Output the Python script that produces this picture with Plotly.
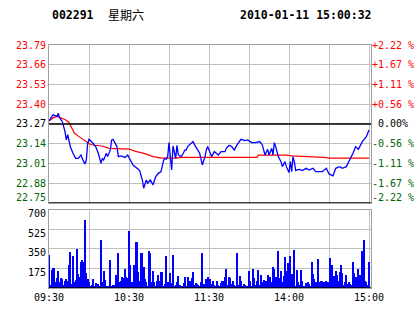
import plotly.graph_objects as go

# ---------------- data ----------------
stock_code = "002291"
weekday_text = "星期六"
timestamp_text = "2010-01-11 15:00:32"
prev_close = 23.27

price_ticks = [22.75, 22.88, 23.01, 23.14, 23.27, 23.40, 23.53, 23.66, 23.79]
pct_labels = ["-2.22 %", "-1.67 %", "-1.11 %", "-0.56 %", " 0.00%",
              "+0.56 %", "+1.11 %", "+1.67 %", "+2.22 %"]
vol_ticks = [175, 350, 525, 700]
time_ticks = [0, 30, 60, 90, 120, 150, 180, 210, 240]
time_labels = ["09:30", "", "10:30", "", "11:30", "", "14:00", "", "15:00"]

# minute index since 09:30 (lunch break removed) and price
price_minutes = [
    0, 3, 6, 7, 8, 10, 12, 13, 14, 15,
    16, 18, 20, 22, 24, 26, 27, 28, 29, 30,
    32, 33, 35, 37, 39, 40, 41, 43, 44, 46,
    47, 48, 49, 51, 52, 54, 57, 59, 61, 63,
    66, 68, 70, 71, 73, 74, 76, 78, 80, 82,
    84, 86, 87, 88, 89, 90, 91, 92, 93, 95,
    96, 97, 99, 100, 102, 103, 104, 107, 108, 110,
    113, 115, 117, 118, 119, 120, 122, 124, 127, 129,
    132, 133, 135, 137, 139, 141, 143, 144, 147, 149,
    152, 155, 158, 160, 162, 164, 165, 167, 168, 169,
    170, 172, 174, 175, 177, 178, 180, 181, 182, 183,
    184, 185, 186, 188, 190, 193, 195, 198, 200, 203,
    205, 208, 210, 213, 215, 218, 220, 223, 225, 228,
    229, 230, 232, 233, 235, 238, 240,
]
price_values = [
    23.29, 23.33, 23.32, 23.34, 23.31, 23.285, 23.22, 23.165, 23.20, 23.165,
    23.12, 23.077, 23.044, 23.044, 23.066, 23.022, 23.007, 23.033, 23.143, 23.169,
    23.154, 23.143, 23.121, 23.077, 23.011, 23.044, 23.033, 23.077, 23.055, 23.099,
    23.165, 23.169, 23.154, 23.121, 23.055, 23.06, 23.05, 23.066, 23.033, 23.00,
    22.978, 22.963, 22.901, 22.847, 22.901, 22.88, 22.901, 22.869, 22.923, 22.945,
    22.956, 23.033, 23.044, 23.037, 23.055, 23.147, 23.055, 22.967, 23.125, 23.044,
    23.13, 23.066, 23.055, 23.066, 23.099, 23.099, 23.121, 23.147, 23.154, 23.121,
    23.077, 23.00, 23.055, 23.099, 23.121, 23.099, 23.055, 23.088, 23.066, 23.088,
    23.088, 23.11, 23.13, 23.121, 23.099, 23.132, 23.154, 23.169, 23.16, 23.165,
    23.147, 23.147, 23.154, 23.132, 23.066, 23.103, 23.066, 23.11, 23.066, 23.147,
    23.121, 23.055, 23.022, 22.989, 23.022, 22.989, 22.95, 23.022, 22.956, 23.055,
    23.022, 22.963, 22.967, 22.971, 22.963, 22.978, 22.967, 22.978, 22.956, 22.956,
    22.956, 22.978, 22.941, 22.928, 22.978, 22.989, 22.978, 22.989, 23.022, 23.077,
    23.099, 23.121, 23.103, 23.121, 23.154, 23.186, 23.23,
]

avg_minutes = [0, 3, 6, 9, 12, 15, 17, 19, 22, 25,
               28, 31, 34, 40, 45, 52, 60, 65, 72, 78,
               85, 95, 100, 120, 156, 157, 178, 182, 200, 206,
               210, 240]
avg_values = [23.29, 23.31, 23.32, 23.31, 23.30, 23.28, 23.24, 23.21, 23.19, 23.17,
              23.155, 23.135, 23.13, 23.125, 23.11, 23.11, 23.105, 23.09, 23.075, 23.055,
              23.045, 23.045, 23.05, 23.05, 23.05, 23.065, 23.065, 23.06, 23.055, 23.05,
              23.045, 23.045]

volume = [
    301, 30, 165, 183, 183, 62, 95, 160, 56, 94,
    86, 30, 71, 86, 71, 212, 328, 40, 292, 56,
    77, 352, 130, 100, 233, 257, 239, 611, 136, 86,
    56, 18, 30, 86, 18, 47, 20, 41, 18, 434,
    56, 153, 77, 20, 18, 18, 257, 20, 27, 27,
    124, 86, 313, 56, 71, 106, 94, 174, 100, 94,
    514, 212, 56, 41, 212, 419, 419, 150, 65, 313,
    320, 189, 86, 56, 25, 337, 313, 56, 160, 56,
    25, 71, 124, 71, 145, 145, 25, 41, 292, 56,
    27, 136, 47, 301, 20, 27, 56, 115, 27, 20,
    18, 47, 100, 20, 106, 18, 71, 94, 145, 27,
    47, 41, 27, 20, 56, 313, 41, 18, 86, 100,
    30, 86, 41, 65, 27, 20, 65, 27, 20, 47,
    71, 71, 100, 174, 30, 106, 94, 41, 65, 27,
    20, 313, 27, 115, 71, 20, 41, 27, 18, 20,
    160, 65, 20, 174, 94, 27, 65, 165, 30, 124,
    56, 77, 47, 65, 124, 30, 100, 56, 189, 174,
    100, 41, 331, 94, 153, 56, 115, 277, 160, 224,
    130, 292, 130, 27, 345, 18, 165, 56, 27, 165,
    71, 20, 18, 47, 56, 41, 20, 239, 130, 86,
    56, 56, 263, 56, 71, 71, 56, 47, 71, 56,
    30, 269, 212, 91, 115, 153, 124, 71, 145, 210,
    136, 30, 56, 124, 41, 56, 41, 30, 239, 136,
    100, 56, 174, 124, 41, 337, 431, 71, 56, 27,
    234,
]
vol_minutes = list(range(len(volume)))

# ---------------- styling ----------------
RED = "#FF0000"
GREEN = "#006400"
BLUE = "#0000FF"
GRID = "#C0C0C0"
BORDER = "#A0A0A0"
MONO = "DejaVu Sans Mono"


def tint(v):
    if abs(v - prev_close) < 1e-9:
        return "#000000"
    return RED if v > prev_close else GREEN


def nb(t):
    return t.replace(" ", chr(160))


# lowest labels are drawn separately (nudged up, as in the original)
left_text = [""] + [f'<span style="color:{tint(v)}">{v:.2f}</span>' for v in price_ticks[1:]]
right_text = [""] + [f'<span style="color:{tint(v)}">{nb(t)}</span>'
                     for v, t in zip(price_ticks[1:], pct_labels[1:])]

fig = go.Figure()
fig.add_trace(go.Bar(x=vol_minutes, y=volume, xaxis="x", yaxis="y2",
                     marker=dict(color=BLUE, line_width=0), width=0.8,
                     hoverinfo="skip"))
fig.add_trace(go.Scatter(x=avg_minutes, y=avg_values, xaxis="x2", yaxis="y",
                         mode="lines", line=dict(color=RED, width=1.2),
                         hoverinfo="skip"))
fig.add_trace(go.Scatter(x=price_minutes, y=price_values, xaxis="x2", yaxis="y",
                         mode="lines", line=dict(color=BLUE, width=1.3),
                         hoverinfo="skip"))
fig.add_trace(go.Scatter(x=[0], y=[prev_close], xaxis="x2", yaxis="y3",
                         mode="markers", marker=dict(opacity=0),
                         hoverinfo="skip"))

x_range = [0, 241.5]
fig.update_layout(
    width=414, height=314,
    margin=dict(l=49, r=43, t=45, b=26, autoexpand=False),
    paper_bgcolor="white", plot_bgcolor="white",
    showlegend=False, bargap=0,
    font=dict(family=MONO, size=10, color="#000000"),
    xaxis=dict(domain=[0, 1], anchor="y2", range=x_range, automargin=False,
               tickvals=time_ticks, ticktext=time_labels,
               showgrid=True, gridcolor=GRID, gridwidth=1, zeroline=False,
               showline=True, linecolor=BORDER, mirror=True, ticks="",
               tickfont=dict(family=MONO, size=10, color="#000000")),
    xaxis2=dict(domain=[0, 1], anchor="y", range=x_range, matches="x",
                automargin=False,
                tickvals=time_ticks, showticklabels=False,
                showgrid=True, gridcolor=GRID, gridwidth=1, zeroline=False,
                showline=True, linecolor=BORDER, mirror=True, ticks=""),
    yaxis=dict(domain=[0.35, 1], anchor="x2", range=[22.75, 23.79],
               automargin=False,
               tickvals=price_ticks, ticktext=left_text,
               showgrid=True, gridcolor=GRID, gridwidth=1, zeroline=False,
               showline=True, linecolor=BORDER, mirror=True, ticks="",
               tickfont=dict(family=MONO, size=10)),
    yaxis2=dict(domain=[0, 0.323], anchor="x", range=[0, 700],
                automargin=False,
                tickvals=vol_ticks, ticktext=[str(v) for v in vol_ticks],
                showgrid=True, gridcolor=GRID, gridwidth=1, zeroline=False,
                showline=True, linecolor=BORDER, mirror=True, ticks="",
                ticklabelshift=4,
                tickfont=dict(family=MONO, size=10, color="#000000")),
    yaxis3=dict(overlaying="y", side="right", anchor="x2", automargin=False,
                range=[22.75, 23.79], tickvals=price_ticks, ticktext=right_text,
                showgrid=False, zeroline=False, showline=False, ticks="",
                tickfont=dict(family=MONO, size=10)),
    shapes=[
        dict(type="line", xref="x2 domain", yref="y", x0=0, x1=1,
             y0=prev_close, y1=prev_close, line=dict(color="#000000", width=1.5)),
        dict(type="line", xref="x2 domain", yref="y", x0=0, x1=1,
             y0=price_ticks[0], y1=price_ticks[0], line=dict(color="#000000", width=1.5)),
        dict(type="line", xref="x domain", yref="y2", x0=0, x1=1,
             y0=0, y1=0, line=dict(color="#000000", width=1.5)),
    ],
    annotations=[
        dict(xref="paper", yref="paper", x=0.003, y=1.1235, xanchor="left",
             yanchor="middle", showarrow=False, text=f"<b>{stock_code}</b>",
             font=dict(family=MONO, size=11.5, color="#000000")),
        dict(xref="paper", yref="paper", x=0.177, y=1.1235, xanchor="left",
             yanchor="middle", showarrow=False, text=weekday_text,
             font=dict(family="Noto Sans CJK SC", size=12, color="#000000")),
        dict(xref="paper", yref="paper", x=0.587, y=1.1235, xanchor="left",
             yanchor="middle", showarrow=False, text=f"<b>{timestamp_text}</b>",
             font=dict(family=MONO, size=11.5, color="#000000")),
        dict(xref="paper", yref="y", x=0, y=price_ticks[0], xanchor="right",
             yanchor="middle", xshift=-1, yshift=5, showarrow=False,
             text=f"{price_ticks[0]:.2f}",
             font=dict(family=MONO, size=10, color=tint(price_ticks[0]))),
        dict(xref="paper", yref="y", x=1, y=price_ticks[0], xanchor="left",
             yanchor="middle", xshift=-1, yshift=5, showarrow=False,
             text=nb(pct_labels[0]),
             font=dict(family=MONO, size=10, color=tint(price_ticks[0]))),
    ],
)

fig.write_html("out.html")
